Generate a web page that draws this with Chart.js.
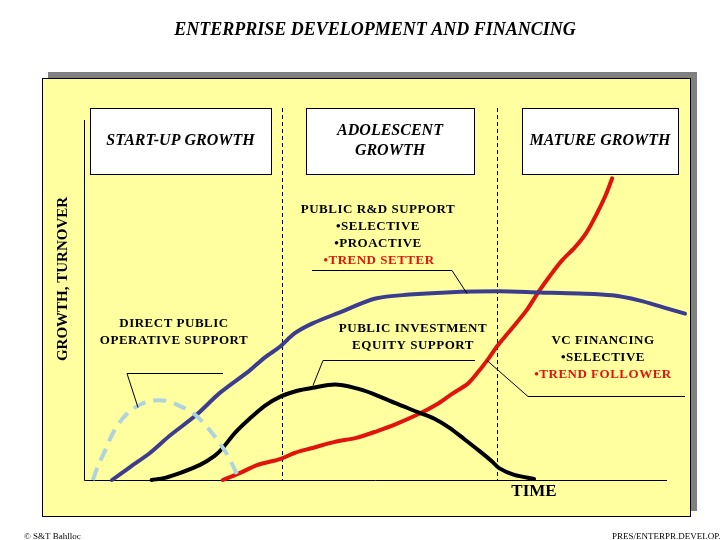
<!DOCTYPE html>
<html>
<head>
<meta charset="utf-8">
<script src="https://cdn.jsdelivr.net/npm/chart.js@4/dist/chart.umd.min.js"></script>
<style>
  html, body { margin: 0; padding: 0; background: #ffffff; }
  canvas { display: block; }
</style>
</head>
<body>
<canvas id="chart" width="720" height="540"></canvas>
<script>
// Time (0-100) and growth (0-100)
const startupTime   = [1.5, 2.4, 3.6, 4.8, 6.2, 7.9, 9.6, 11.6, 13.9, 16.4, 19.3, 22.1, 24.5, 26.2, 26.5];
const startupGrowth = [0, 3.9, 8.1, 12.5, 16.2, 19.2, 20.9, 22.0, 22.0, 20.6, 17.8, 12.8, 7.2, 1.7, 0];

const rdTime   = [4.8, 7.9, 11.3, 14.7, 19.3, 23.3, 28.4, 31.0, 33.6, 36.1, 39.2, 43.8, 50.0, 55.8, 62.2, 71.2, 78.1, 84.9, 90.6, 95.2, 99.5, 103.1];
const rdGrowth = [0, 3.6, 7.5, 12.3, 18.1, 24.2, 30.4, 34.0, 37.0, 40.7, 43.5, 46.5, 50.4, 51.5, 52.1, 52.4, 52.1, 51.8, 51.3, 49.9, 47.9, 46.2];

const equityTime   = [11.6, 13.9, 16.4, 19.9, 22.4, 23.8, 25.9, 28.4, 31.0, 33.6, 36.6, 39.2, 43.0, 46.4, 49.5, 53.3, 57.5, 60.1, 62.7, 65.2, 67.8, 69.9, 71.2, 73.8, 77.2];
const equityGrowth = [0, 0.6, 1.9, 4.2, 6.7, 8.9, 13.1, 17.0, 20.6, 23.1, 24.8, 25.6, 26.5, 25.6, 24.0, 21.4, 18.7, 17.0, 14.5, 11.4, 8.1, 5.3, 3.3, 1.4, 0.3];

const vcTime   = [23.8, 26.7, 29.8, 33.6, 36.1, 39.2, 43.0, 46.7, 50.3, 53.6, 57.5, 60.4, 63.2, 65.8, 67.8, 69.5, 70.7, 72.1, 73.5, 75.9, 78.1, 80.1, 82.0, 84.2, 86.1, 88.0, 89.4, 90.6];
const vcGrowth = [0, 1.9, 4.2, 5.8, 7.5, 8.9, 10.6, 11.7, 13.6, 15.6, 18.4, 20.9, 24.0, 26.7, 30.4, 34.0, 36.8, 39.6, 42.3, 47.1, 52.6, 57.1, 61.0, 64.6, 68.5, 74.1, 78.8, 83.8];

// phase boundaries on the time axis
const phaseBounds = [33.9, 70.9];
const phaseLabels = [['START-UP GROWTH'], ['ADOLESCENT', 'GROWTH'], ['MATURE GROWTH']];

const pts = (xs, ys) => xs.map((x, i) => ({ x, y: ys[i] }));

const SERIF = '"Liberation Serif", "DejaVu Serif", serif';
const RED = '#e0140c';

const backdrop = {
  id: 'backdrop',
  beforeDraw(chart) {
    const ctx = chart.ctx;
    const { left, right, top, bottom } = chart.chartArea;
    const xs = chart.scales.x;
    ctx.save();
    ctx.fillStyle = '#ffffff';
    ctx.fillRect(0, 0, chart.width, chart.height);

    // shadow + panel
    ctx.fillStyle = '#808080';
    ctx.fillRect(48, 72, 649, 439);
    ctx.fillStyle = '#ffffa0';
    ctx.fillRect(42, 78, 649, 439);
    ctx.strokeStyle = '#000';
    ctx.lineWidth = 1;
    ctx.strokeRect(42.5, 78.5, 648, 438);

    // title
    ctx.fillStyle = '#000';
    ctx.textAlign = 'center';
    ctx.textBaseline = 'middle';
    ctx.font = 'italic bold 18px ' + SERIF;
    ctx.fillText('ENTERPRISE DEVELOPMENT AND FINANCING', 375, 30);

    // phase dividers
    ctx.setLineDash([4, 3]);
    phaseBounds.forEach(b => {
      const px = Math.round(xs.getPixelForValue(b)) + 0.5;
      ctx.beginPath();
      ctx.moveTo(px, 108);
      ctx.lineTo(px, bottom);
      ctx.stroke();
    });
    ctx.setLineDash([]);

    // phase boxes
    const boxes = [[90, 271], [306, 474], [522, 678]];
    ctx.font = 'italic bold 16px ' + SERIF;
    boxes.forEach(([x0, x1], i) => {
      ctx.fillStyle = '#ffffff';
      ctx.fillRect(x0, 108, x1 - x0, 66);
      ctx.strokeRect(x0 + 0.5, 108.5, x1 - x0, 66);
      ctx.fillStyle = '#000';
      const lines = phaseLabels[i];
      const cx = (x0 + x1) / 2;
      lines.forEach((t, j) => {
        ctx.fillText(t, cx, 141 + (j - (lines.length - 1) / 2) * 20);
      });
    });

    // axes
    ctx.beginPath();
    ctx.moveTo(left + 0.5, top);
    ctx.lineTo(left + 0.5, bottom + 0.5);
    ctx.lineTo(right, bottom + 0.5);
    ctx.stroke();

    ctx.font = 'bold 17px ' + SERIF;
    ctx.fillText('TIME', 534, 492);
    ctx.font = 'bold 15px ' + SERIF;
    ctx.save();
    ctx.translate(63, 279);
    ctx.rotate(-Math.PI / 2);
    ctx.fillText('GROWTH, TURNOVER', 0, 0);
    ctx.restore();

    // footer
    ctx.font = '9px ' + SERIF;
    ctx.textAlign = 'left';
    ctx.fillText('\u00a9 S&T Bahlloc', 24, 537);
    ctx.fillText('PRES/ENTERPR.DEVELOP.', 612, 537);
    ctx.restore();
  },
  afterDatasetsDraw(chart) {
    const ctx = chart.ctx;
    ctx.save();
    ctx.textAlign = 'center';
    ctx.textBaseline = 'middle';
    ctx.font = 'bold 13px ' + SERIF;
    ctx.letterSpacing = '0.5px';
    const notes = [
      [378, 210, 'PUBLIC R&D SUPPORT', '#000'],
      [378, 227, '\u2022SELECTIVE', '#000'],
      [378, 244, '\u2022PROACTIVE', '#000'],
      [379, 261, '\u2022TREND SETTER', RED],
      [174, 324, 'DIRECT PUBLIC', '#000'],
      [174, 341, 'OPERATIVE SUPPORT', '#000'],
      [413, 329, 'PUBLIC INVESTMENT', '#000'],
      [413, 346, 'EQUITY SUPPORT', '#000'],
      [603, 341, 'VC FINANCING', '#000'],
      [603, 358, '\u2022SELECTIVE', '#000'],
      [603, 375, '\u2022TREND FOLLOWER', RED]
    ];
    notes.forEach(([x, y, t, c]) => {
      ctx.fillStyle = c;
      ctx.fillText(t, x, y);
    });

    // callout leaders
    ctx.strokeStyle = '#000';
    ctx.lineWidth = 1;
    const leaders = [
      [[312, 270], [452, 270], [467, 293]],
      [[475, 360], [323, 360], [313, 385]],
      [[487, 360], [528, 396], [685, 396]],
      [[223, 373], [127, 373], [138, 407]]
    ];
    leaders.forEach(l => {
      ctx.beginPath();
      l.forEach(([x, y], i) => i ? ctx.lineTo(x, y + 0.5) : ctx.moveTo(x, y + 0.5));
      ctx.stroke();
    });
    ctx.restore();
  }
};

const line = (data, color, extra = {}) => Object.assign({
  data,
  showLine: true,
  borderColor: color,
  borderWidth: 4,
  pointRadius: 0,
  tension: 0.3,
  borderCapStyle: 'round',
  borderJoinStyle: 'round',
  clip: false
}, extra);

new Chart(document.getElementById('chart'), {
  type: 'scatter',
  data: {
    datasets: [
      line(pts(startupTime, startupGrowth), '#aed3dc', { borderDash: [13, 8], borderCapStyle: 'butt' }),
      line(pts(rdTime, rdGrowth), '#3d3d8e'),
      line(pts(equityTime, equityGrowth), '#000000'),
      line(pts(vcTime, vcGrowth), RED)
    ]
  },
  options: {
    responsive: false,
    animation: false,
    layout: { padding: { left: 84, right: 53, top: 120, bottom: 60 } },
    plugins: { legend: { display: false }, tooltip: { enabled: false } },
    scales: {
      x: { type: 'linear', min: 0, max: 100, display: false },
      y: { min: 0, max: 100, display: false }
    }
  },
  plugins: [backdrop]
});
</script>
</body>
</html>
